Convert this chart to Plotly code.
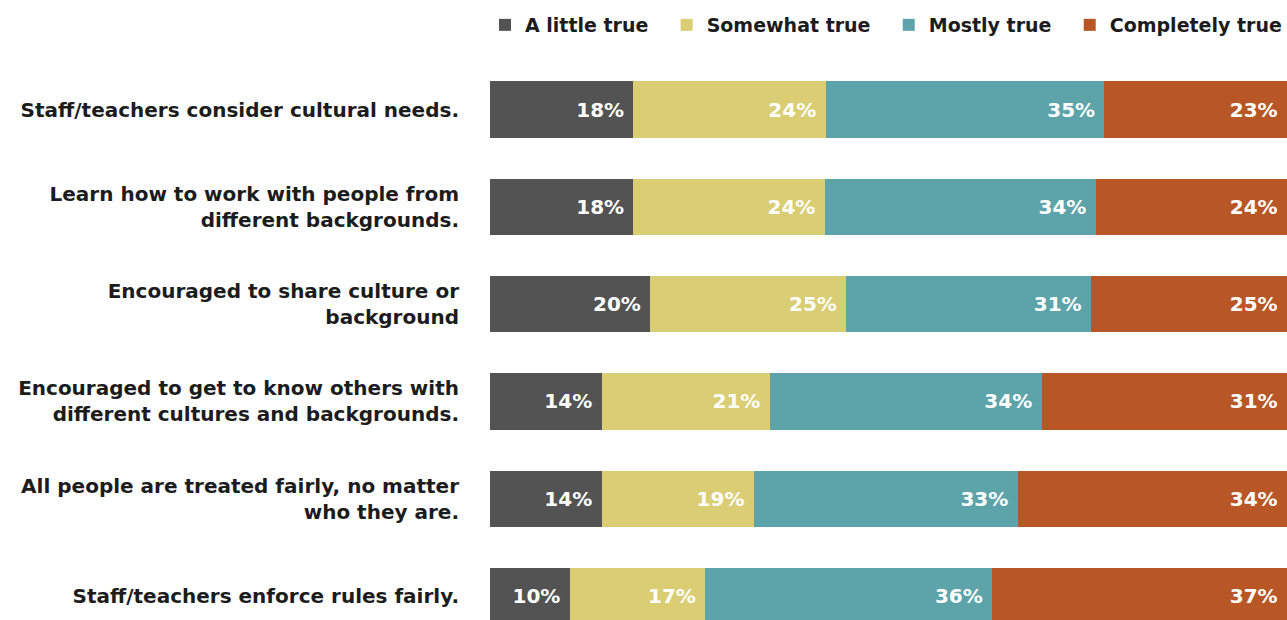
import plotly.graph_objects as go

categories = [
    "Staff/teachers consider cultural needs.",
    "Learn how to work with people from<br>different backgrounds.",
    "Encouraged to share culture or<br>background",
    "Encouraged to get to know others with<br>different cultures and backgrounds.",
    "All people are treated fairly, no matter<br>who they are.",
    "Staff/teachers enforce rules fairly.",
]
series_names = ["A little true", "Somewhat true", "Mostly true", "Completely true"]
a_little = [18, 18, 20.1, 14, 14, 10]
somewhat = [24.1, 24, 24.6, 21.1, 19.1, 17]
mostly = [35, 34, 30.7, 34.1, 33.1, 36]
completely = [22.9, 24, 24.6, 30.8, 33.8, 37]
colors = ["#535353", "#DBCD73", "#5CA4AA", "#B85725"]

FONT = "DejaVu Sans"
TXT = "#1c1c1c"

fig = go.Figure()
n_series = len(series_names)
for i, (name, vals, col) in enumerate(zip(series_names, [a_little, somewhat, mostly, completely], colors)):
    legend_label = name + ("\u00a0\u00a0" if i < n_series - 1 else "")
    fig.add_trace(go.Bar(
        y=categories, x=vals, name=legend_label, orientation="h",
        marker=dict(color=col, line=dict(width=0)),
        texttemplate="<b>%{x:.0f}%</b>\u00a0",
        textposition="inside", insidetextanchor="end",
        textfont=dict(color="white", size=20, family=FONT),
        width=0.58,
        hoverinfo="skip",
    ))

fig.update_layout(
    barmode="stack",
    width=1287, height=620,
    margin=dict(l=490, r=0, t=61, b=0, pad=0, autoexpand=False),
    plot_bgcolor="white", paper_bgcolor="white",
    font=dict(family=FONT, size=20, color=TXT),
    legend=dict(orientation="h", x=1.0, xanchor="right", xref="container",
                y=1 - 25 / 620, yanchor="middle", yref="container",
                font=dict(size=19, family=FONT, color=TXT, weight="bold"),
                traceorder="normal", itemwidth=30,
                bgcolor="rgba(0,0,0,0)"),
    showlegend=True,
)
fig.update_xaxes(range=[0, 100], visible=False, showgrid=False, zeroline=False)
fig.update_yaxes(categoryorder="array", categoryarray=categories,
                 range=[5.247, -0.5], showgrid=False, zeroline=False, showline=False,
                 ticks="", ticklabelstandoff=30,
                 tickfont=dict(size=20, family=FONT, color=TXT, weight="bold"))

fig.write_html(
    "out.html",
    config={"displayModeBar": False},
    post_script="document.body.style.margin='0';document.body.style.overflow='hidden';",
)
